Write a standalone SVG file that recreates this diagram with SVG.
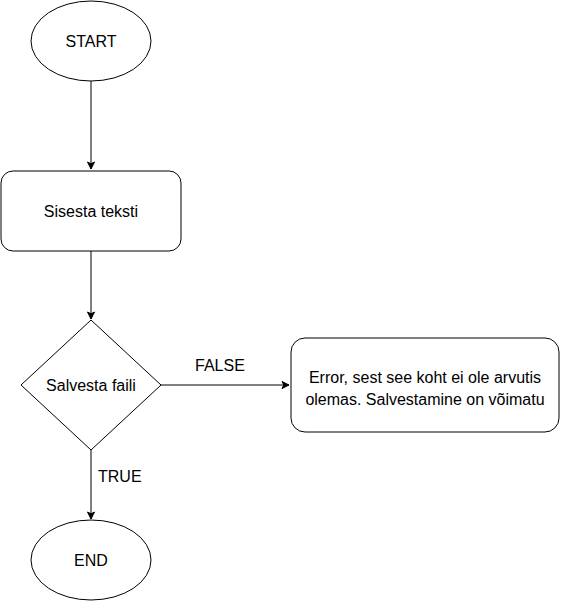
<svg xmlns="http://www.w3.org/2000/svg" width="561" height="601" viewBox="0 0 561 601">
<style>
.s{fill:#fff;stroke:#000;stroke-width:1}
.t{font-family:"Liberation Sans",Arial,sans-serif;font-size:16px;fill:#000;text-anchor:middle}
.l{font-family:"Liberation Sans",Arial,sans-serif;font-size:16px;fill:#000}
.c{fill:none;stroke:#000;stroke-width:1}
</style>
<defs>
<marker id="a" markerWidth="10" markerHeight="10" refX="8" refY="5" orient="auto" markerUnits="userSpaceOnUse">
<path d="M1,1.5 L8,5 L1,8.5 L2.8,5 Z" fill="#000" stroke="#000"/>
</marker>
</defs>
<g id="connectors">
<path class="c" d="M91,81 V169" marker-end="url(#a)"/>
<path class="c" d="M91,251 V319" marker-end="url(#a)"/>
<path class="c" d="M161,385 H289" marker-end="url(#a)"/>
<path class="c" d="M91,450 V519" marker-end="url(#a)"/>
<text class="l" x="195" y="371">FALSE</text>
<text class="l" x="98" y="482">TRUE</text>
</g>
<g id="start">
<ellipse class="s" cx="91" cy="41" rx="60" ry="40"/>
<text class="t" x="91" y="47">START</text>
</g>
<g id="input">
<rect class="s" x="1" y="171" width="180" height="80" rx="12"/>
<text class="t" x="91" y="217">Sisesta teksti</text>
</g>
<g id="decision">
<polygon class="s" points="91,320 161,385 91,450 21,385"/>
<text class="t" x="91" y="391">Salvesta faili</text>
</g>
<g id="error">
<rect class="s" x="291" y="338" width="268" height="94" rx="14"/>
<text class="t" x="425" y="383">Error, sest see koht ei ole arvutis</text>
<text class="t" x="425" y="405">olemas. Salvestamine on võimatu</text>
</g>
<g id="end">
<ellipse class="s" cx="91" cy="560" rx="60" ry="40"/>
<text class="t" x="91" y="566">END</text>
</g>
</svg>
